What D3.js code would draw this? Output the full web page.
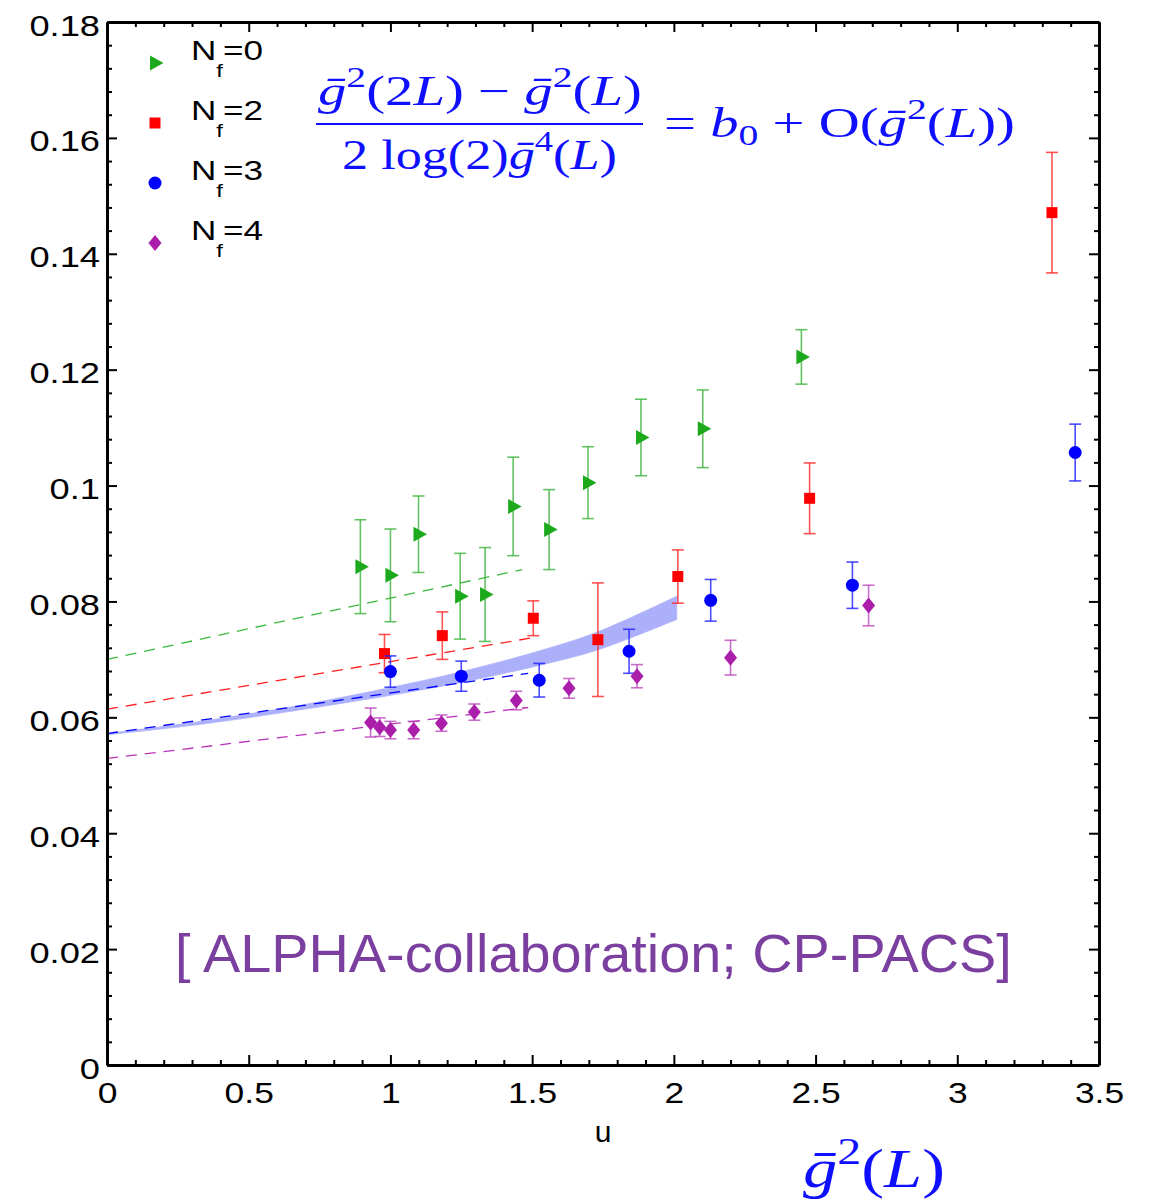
<!DOCTYPE html>
<html><head><meta charset="utf-8">
<script src="https://cdn.jsdelivr.net/npm/d3@7/dist/d3.min.js"></script>
<style>body{margin:0;background:#fff;} svg{display:block;}</style>
</head><body>
<script>
// ---------------- data ----------------
const xTicks = [0, 0.5, 1, 1.5, 2, 2.5, 3, 3.5];
const xTickLabels = ["0", "0.5", "1", "1.5", "2", "2.5", "3", "3.5"];
const yTicks = [0, 0.02, 0.04, 0.06, 0.08, 0.1, 0.12, 0.14, 0.16, 0.18];
const yTickLabels = ["0", "0.02", "0.04", "0.06", "0.08", "0.1", "0.12", "0.14", "0.16", "0.18"];

const nf0_u = [0.894, 1.0, 1.099, 1.246, 1.334, 1.433, 1.56, 1.697, 1.884, 2.102, 2.45];
const nf0_v = [0.0860, 0.0845, 0.0916, 0.0809, 0.0812, 0.0964, 0.0924, 0.1005, 0.1083, 0.1098, 0.1222];
const nf0_e = [0.0081, 0.0080, 0.0066, 0.0074, 0.0081, 0.0085, 0.0069, 0.0062, 0.0066, 0.0067, 0.0047];

const nf2_u = [0.979, 1.183, 1.504, 1.732, 2.014, 2.479, 3.334];
const nf2_v = [0.0710, 0.0741, 0.0771, 0.0734, 0.0843, 0.0978, 0.1471];
const nf2_e = [0.0033, 0.0041, 0.0030, 0.0098, 0.0046, 0.0061, 0.0104];

const nf3_u = [1.0, 1.25, 1.525, 1.842, 2.13, 2.63, 3.416];
const nf3_v = [0.0679, 0.0671, 0.0664, 0.0714, 0.0802, 0.0828, 0.1057];
const nf3_e = [0.0027, 0.0026, 0.0029, 0.0038, 0.0036, 0.0040, 0.0049];

const nf4_u = [0.93, 0.962, 1.0, 1.082, 1.18, 1.296, 1.444, 1.63, 1.87, 2.2, 2.687];
const nf4_v = [0.0591, 0.0583, 0.0578, 0.0578, 0.0590, 0.0609, 0.0629, 0.0650, 0.0671, 0.0703, 0.0793];
const nf4_e = [0.0025, 0.0016, 0.0015, 0.0015, 0.0014, 0.0014, 0.0016, 0.0017, 0.0020, 0.0030, 0.0035];

// dashed fit lines [u, value]
const fit0 = [[0, 0.0700], [1.465, 0.0855]];
const fit2 = [[0, 0.0614], [1.51, 0.0738]];
const fit3 = [[0, 0.0572], [1.486, 0.0676]];
const fit4 = [[0, 0.0529], [1.486, 0.0617]];

// perturbative band
const band_u  = [0, 0.331, 0.683, 1.035, 1.236, 1.528, 1.729, 2.01];
const band_lo = [0.0570, 0.0588, 0.0613, 0.0641, 0.0659, 0.0690, 0.0716, 0.0769];
const band_hi = [0.0572, 0.0593, 0.0621, 0.0655, 0.0677, 0.0715, 0.0747, 0.0809];

const legendLabels = ["0", "2", "3", "4"];

// ---------------- drawing ----------------
const W = 1149, H = 1199;
const svg = d3.select("body").append("svg").attr("width", W).attr("height", H);
const x = d3.scaleLinear().domain([0, 3.5]).range([107, 1099]);
const y = d3.scaleLinear().domain([0, 0.18]).range([1065, 22]);

const SANS = "'Liberation Sans', Arial, Helvetica, sans-serif";
const SERIF = "'Liberation Serif', 'Times New Roman', serif";

const series = [
  {u: nf0_u, v: nf0_v, e: nf0_e, fit: fit0, mk: "tri", col: "rgb(28,170,28)", ecol: "rgba(60,180,60,0.8)", dcol: "rgb(60,185,60)"},
  {u: nf2_u, v: nf2_v, e: nf2_e, fit: fit2, mk: "sq", col: "rgb(255,0,0)", ecol: "rgba(255,40,40,0.8)", dcol: "rgb(255,30,30)"},
  {u: nf3_u, v: nf3_v, e: nf3_e, fit: fit3, mk: "circ", col: "rgb(0,0,255)", ecol: "rgba(30,30,255,0.8)", dcol: "rgb(0,0,255)"},
  {u: nf4_u, v: nf4_v, e: nf4_e, fit: fit4, mk: "dia", col: "rgb(170,30,170)", ecol: "rgba(185,60,185,0.75)", dcol: "rgb(185,50,185)"}
];

function markerPath(mk) {
  if (mk === "tri") return "M-5,-7.5L8.5,0L-5,7.5Z";
  if (mk === "sq") return "M-5.5,-5.5H5.5V5.5H-5.5Z";
  if (mk === "circ") return d3.symbol().type(d3.symbolCircle).size(Math.PI * 6.5 * 6.5)();
  return "M0,-8L6.5,0L0,8L-6.5,0Z";
}

// band
const bandData = band_u.map((u, i) => ({u, lo: band_lo[i], hi: band_hi[i]}));
svg.append("path").datum(bandData)
  .attr("d", d3.area().x(d => x(d.u)).y0(d => y(d.lo)).y1(d => y(d.hi)).curve(d3.curveCatmullRom))
  .attr("fill", "rgb(172,176,250)").attr("stroke", "rgb(172,176,250)").attr("stroke-width", 0.8);

// dashed fits
const line = d3.line().x(d => x(d[0])).y(d => y(d[1]));
series.forEach(s => {
  svg.append("path").datum(s.fit).attr("d", line)
    .attr("fill", "none").attr("stroke", s.dcol).attr("stroke-width", 1.3)
    .attr("stroke-dasharray", "11,8");
});

// error bars and markers
series.forEach(s => {
  const pts = s.u.map((u, i) => ({u, v: s.v[i], e: s.e[i]}));
  const g = svg.append("g");
  const eb = g.selectAll("g.eb").data(pts).enter().append("g")
    .attr("stroke", s.ecol).attr("stroke-width", 1.6).attr("fill", "none");
  eb.append("line").attr("x1", d => x(d.u)).attr("x2", d => x(d.u))
    .attr("y1", d => y(d.v + d.e)).attr("y2", d => y(d.v - d.e));
  eb.append("line").attr("x1", d => x(d.u) - 6).attr("x2", d => x(d.u) + 6)
    .attr("y1", d => y(d.v + d.e)).attr("y2", d => y(d.v + d.e));
  eb.append("line").attr("x1", d => x(d.u) - 6).attr("x2", d => x(d.u) + 6)
    .attr("y1", d => y(d.v - d.e)).attr("y2", d => y(d.v - d.e));
  g.selectAll("path.mk").data(pts).enter().append("path")
    .attr("d", markerPath(s.mk))
    .attr("transform", d => `translate(${x(d.u)},${y(d.v)})`)
    .attr("fill", s.col);
});

// ---------------- axes ----------------
function styleAxis(g) {
  g.select(".domain").attr("stroke", "#000").attr("stroke-width", 3);
  g.selectAll(".tick line").attr("stroke", "#000").attr("stroke-width", 2);
  g.attr("font-family", SANS).attr("font-size", 29);
  g.selectAll(".tick text").attr("fill", "#000");
}
function stretchText(sel, f) {
  sel.each(function () {
    const w = this.getComputedTextLength();
    this.setAttribute("textLength", w * f);
    this.setAttribute("lengthAdjust", "spacingAndGlyphs");
  });
}
const xMinor = d3.range(0, 36).map(i => i / 10).filter(v => Math.abs(v * 2 - Math.round(v * 2)) > 1e-6);
const yMinor = d3.range(0, 46).map(i => i * 0.004).filter(v => Math.abs(v / 0.02 - Math.round(v / 0.02)) > 1e-6);

// bottom
const gb = svg.append("g").attr("transform", `translate(0,${y(0)})`)
  .call(d3.axisBottom(x).tickValues(xTicks).tickFormat((d, i) => xTickLabels[i]).tickSize(-10).tickSizeOuter(0).tickPadding(17));
styleAxis(gb);
stretchText(gb.selectAll(".tick text"), 1.22);
svg.append("g").attr("transform", `translate(0,${y(0)})`)
  .call(d3.axisBottom(x).tickValues(xMinor).tickFormat("").tickSize(-5).tickSizeOuter(0))
  .call(g => { g.select(".domain").remove(); g.selectAll("line").attr("stroke-width", 2); });
// top
const gt = svg.append("g").attr("transform", `translate(0,${y(0.18)})`)
  .call(d3.axisTop(x).tickValues(xTicks).tickFormat("").tickSize(-10).tickSizeOuter(0));
styleAxis(gt);
svg.append("g").attr("transform", `translate(0,${y(0.18)})`)
  .call(d3.axisTop(x).tickValues(xMinor).tickFormat("").tickSize(-5).tickSizeOuter(0))
  .call(g => { g.select(".domain").remove(); g.selectAll("line").attr("stroke-width", 2); });
// left
const gl = svg.append("g").attr("transform", `translate(${x(0)},0)`)
  .call(d3.axisLeft(y).tickValues(yTicks).tickFormat((d, i) => yTickLabels[i]).tickSize(-10).tickSizeOuter(0).tickPadding(7));
styleAxis(gl);
gl.selectAll(".tick text").attr("dy", "0.45em");
stretchText(gl.selectAll(".tick text"), 1.25);
svg.append("g").attr("transform", `translate(${x(0)},0)`)
  .call(d3.axisLeft(y).tickValues(yMinor).tickFormat("").tickSize(-5).tickSizeOuter(0))
  .call(g => { g.select(".domain").remove(); g.selectAll("line").attr("stroke-width", 2); });
// right
const gr = svg.append("g").attr("transform", `translate(${x(3.5)},0)`)
  .call(d3.axisRight(y).tickValues(yTicks).tickFormat("").tickSize(-10).tickSizeOuter(0));
styleAxis(gr);
svg.append("g").attr("transform", `translate(${x(3.5)},0)`)
  .call(d3.axisRight(y).tickValues(yMinor).tickFormat("").tickSize(-5).tickSizeOuter(0))
  .call(g => { g.select(".domain").remove(); g.selectAll("line").attr("stroke-width", 2); });

// ---------------- legend ----------------
const legBase = [60, 120, 180, 240];
series.forEach((s, i) => {
  svg.append("path").attr("d", markerPath(s.mk))
    .attr("transform", `translate(155,${legBase[i] + 3})`).attr("fill", s.col);
  const t = svg.append("text").attr("x", 191).attr("y", legBase[i])
    .attr("font-family", SANS).attr("font-size", 28).attr("fill", "#000");
  t.append("tspan").text("N");
  t.append("tspan").attr("font-size", 19).attr("dy", 17).text("f");
  t.append("tspan").attr("dy", -17).text("=" + legendLabels[i]);
  t.attr("textLength", 72).attr("lengthAdjust", "spacingAndGlyphs");
});

// ---------------- math text helpers ----------------
function fitText(g, x0, x1) {
  const bb = g.node().getBBox();
  const s = (x1 - x0) / bb.width;
  g.attr("transform", `translate(${x0},0) scale(${s},1) translate(${-bb.x},0)`);
}
function mathText(parent, baseline, fs, parts) {
  const g = parent.append("g");
  const t = g.append("text").attr("x", 0).attr("y", baseline)
    .attr("font-family", SERIF).attr("font-size", fs).attr("fill", "rgb(15,15,255)");
  let cur = 0;
  parts.forEach(p => {
    const ts = t.append("tspan").text(p.t);
    if (p.i) ts.attr("font-style", "italic");
    const off = p.sup ? -fs * 0.42 : p.sub ? fs * 0.2 : 0;
    if (off !== cur) { ts.attr("dy", off - cur); cur = off; }
    if (p.sup || p.sub) ts.attr("font-size", fs * 0.7);
  });
  return g;
}
const gbar = "\u1E21";
// numerator
fitText(mathText(svg, 105, 42, [
  {t: gbar, i: 1}, {t: "2", sup: 1}, {t: "(2"}, {t: "L", i: 1}, {t: ") \u2212 "},
  {t: gbar, i: 1}, {t: "2", sup: 1}, {t: "("}, {t: "L", i: 1}, {t: ")"}
]), 318, 642);
// fraction bar
svg.append("line").attr("x1", 316).attr("x2", 643).attr("y1", 124).attr("y2", 124)
  .attr("stroke", "rgb(15,15,255)").attr("stroke-width", 2);
// denominator
fitText(mathText(svg, 169, 42, [
  {t: "2 log(2)"}, {t: gbar, i: 1}, {t: "4", sup: 1}, {t: "("}, {t: "L", i: 1}, {t: ")"}
]), 342, 617);
// right-hand side
fitText(mathText(svg, 137, 42, [
  {t: "= "}, {t: "b", i: 1}, {t: "0", sub: 1}, {t: " + O("}, {t: gbar, i: 1}, {t: "2", sup: 1},
  {t: "("}, {t: "L", i: 1}, {t: "))"}
]), 664, 1015);
// bottom axis math label
fitText(mathText(svg, 1187, 54, [
  {t: gbar, i: 1}, {t: "2", sup: 1}, {t: "("}, {t: "L", i: 1}, {t: ")"}
]), 803, 945);

// x axis label "u"
svg.append("text").attr("x", 603).attr("y", 1142).attr("text-anchor", "middle")
  .attr("font-family", SANS).attr("font-size", 30).attr("fill", "#000").text("u");

// credit
const cg = svg.append("g");
cg.append("text").attr("x", 0).attr("y", 972).attr("font-family", SANS).attr("font-size", 54)
  .attr("fill", "rgb(123,63,160)").text("[ ALPHA-collaboration; CP-PACS]");
fitText(cg, 175, 1012);
</script>
</body></html>
